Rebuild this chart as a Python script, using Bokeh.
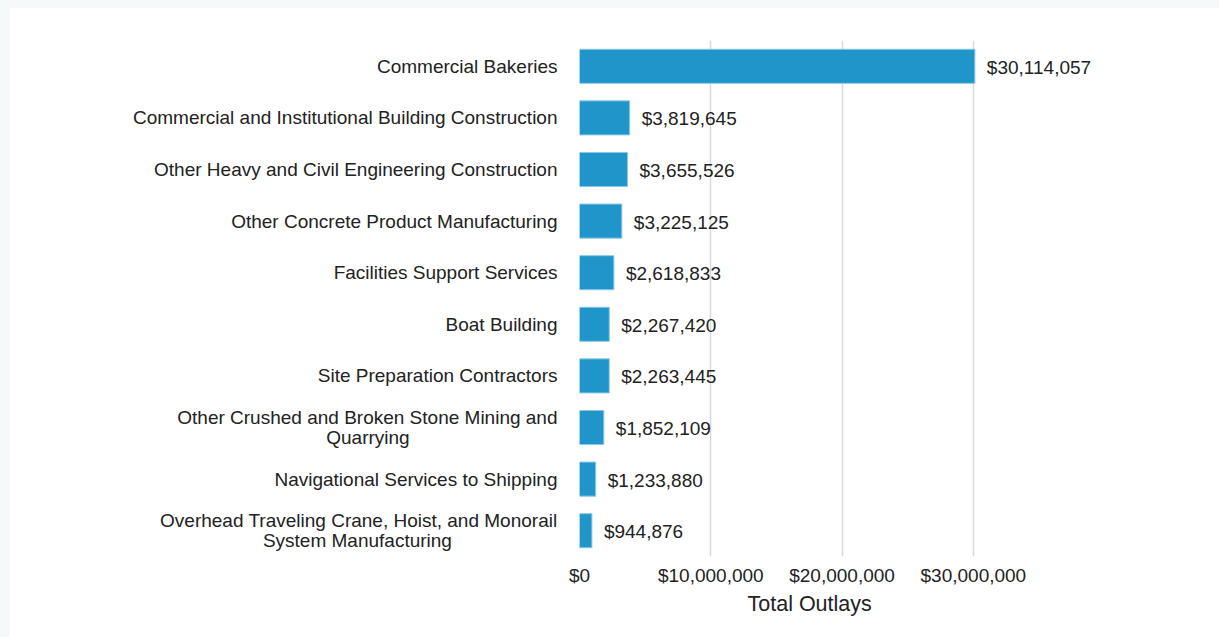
from bokeh.plotting import figure
from bokeh.models import ColumnDataSource, FactorRange, Range1d, FixedTicker, CustomJSTickFormatter, LabelSet, Title
from bokeh.core.properties import value
from bokeh.embed import file_html
from bokeh.resources import INLINE

categories = [
    "Commercial Bakeries",
    "Commercial and Institutional Building Construction",
    "Other Heavy and Civil Engineering Construction",
    "Other Concrete Product Manufacturing",
    "Facilities Support Services",
    "Boat Building",
    "Site Preparation Contractors",
    "Other Crushed and Broken Stone Mining and\nQuarrying",
    "Navigational Services to Shipping",
    "Overhead Traveling Crane, Hoist, and Monorail\nSystem Manufacturing",
]
outlays = [30114057, 3819645, 3655526, 3225125, 2618833, 2267420, 2263445, 1852109, 1233880, 944876]
x_ticks = [0, 10000000, 20000000, 30000000]
x_title = "Total Outlays"

labels = ["${:,}".format(v) for v in outlays]
src = ColumnDataSource(dict(cat=categories, val=outlays, lab=labels))

FONT = "Liberation Sans"
TXT = "#222222"
# visual centring of the second line of wrapped category labels (padding counts)
second_line_pad = {categories[7]: 28, categories[9]: 20}

p = figure(
    width=1210, height=630,
    y_range=FactorRange(factors=list(reversed(categories)), range_padding=0),
    x_range=Range1d(0, 47300000),
    output_backend="svg", toolbar_location=None,
    min_border_left=570, min_border_right=19, min_border_top=33, min_border_bottom=81,
)
p.outline_line_color = None
p.background_fill_color = "white"
p.border_fill_color = "white"

p.hbar(y="cat", right="val", left=0, height=0.66, source=src,
       fill_color="#1F95C9", line_color="#8CC8E6", line_width=1)

ls = LabelSet(x="val", y="cat", text="lab", source=src, x_offset=12, y_offset=-1,
              text_font=value(FONT), text_font_size="19px", text_color=TXT,
              text_baseline="middle", text_align="left")
p.add_layout(ls)

p.xaxis.ticker = FixedTicker(ticks=x_ticks)
p.xaxis.formatter = CustomJSTickFormatter(code="return '$' + tick.toLocaleString('en-US');")
p.xaxis.major_label_standoff = 2

for ax in (p.xaxis, p.yaxis):
    ax.axis_line_color = None
    ax.major_tick_line_color = None
    ax.minor_tick_line_color = None
    ax.major_label_text_font = FONT
    ax.major_label_text_font_size = "19px"
    ax.major_label_text_color = TXT

p.yaxis.major_label_standoff = 16
p.yaxis.major_label_text_line_height = 0.95
p.yaxis.formatter = CustomJSTickFormatter(args=dict(pad=second_line_pad), code="""
const n = pad.get ? pad.get(tick) : pad[tick];
if (n) {
  const parts = String(tick).split('\\n');
  return parts[0] + '\\n' + parts[1] + '\\u00a0'.repeat(n) + '\\u200b';
}
return String(tick);
""")

t = Title(text=x_title, align="left", offset=168, text_font=FONT, text_font_size="21.5px",
          text_font_style="normal", text_color=TXT, standoff=2)
p.add_layout(t, "below")

p.xgrid.grid_line_color = "#D9D9D9"
p.xgrid.grid_line_width = 1.5
p.xgrid.bounds = (0, 30000000)
p.ygrid.grid_line_color = None

html = file_html(p, INLINE)
style = ("<style>html,body{margin:0 !important;background:#F5F9FA !important;}"
         "body{padding:7px 0 0 9px !important;}</style>")
html = html.replace("</head>", style + "</head>", 1)
open("out.html", "w").write(html)
